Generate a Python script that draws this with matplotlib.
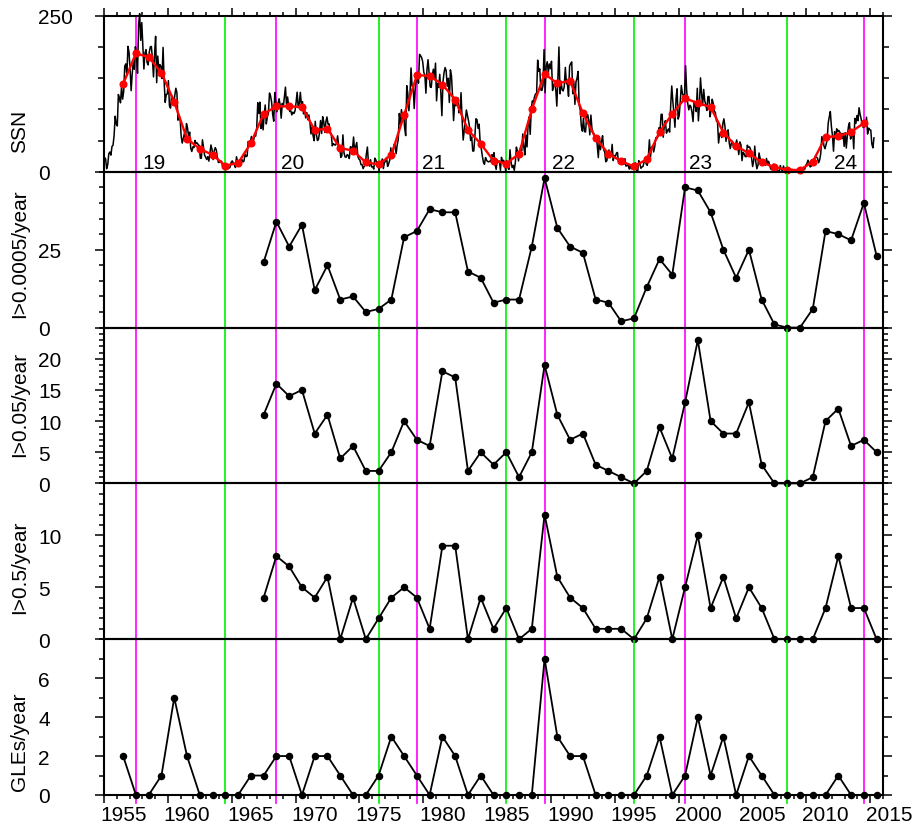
import numpy as np
import matplotlib
matplotlib.use('Agg')
import matplotlib.pyplot as plt
from matplotlib.ticker import FixedLocator, MultipleLocator
from matplotlib.transforms import ScaledTranslation

plt.rcParams['font.family'] = ['Liberation Sans', 'DejaVu Sans']

# ---------------- data ----------------
# monthly sunspot number, Jan 1955 .. Apr 2015
ssn_monthly = [
    23.1, 20.8, 4.9, 11.3, 28.9, 31.7, 26.7, 40.7, 42.7, 58.5, 89.2, 76.9,          # 1955
    73.6, 124.0, 118.4, 110.7, 136.6, 116.6, 129.1, 169.6, 173.2, 155.3, 201.3, 192.1,  # 1956
    165.0, 130.2, 157.4, 175.2, 164.6, 200.7, 187.2, 158.0, 235.8, 253.8, 210.9, 239.4,  # 1957
    202.5, 164.9, 190.7, 196.0, 175.3, 171.5, 191.4, 200.2, 201.2, 181.5, 152.3, 187.6,  # 1958
    217.4, 143.1, 185.7, 163.3, 172.0, 168.7, 149.6, 199.6, 145.2, 111.4, 124.0, 125.0,  # 1959
    146.3, 106.0, 102.2, 122.0, 119.6, 110.2, 121.7, 134.1, 127.2, 82.8, 89.6, 85.6,     # 1960
    57.9, 46.1, 53.0, 61.4, 51.0, 77.4, 70.2, 55.9, 63.6, 37.7, 32.6, 40.0,              # 1961
    38.7, 50.3, 45.6, 46.4, 43.7, 42.0, 21.8, 21.8, 51.3, 39.5, 26.9, 23.2,              # 1962
    19.8, 24.4, 17.1, 29.3, 43.0, 35.9, 19.6, 33.2, 38.8, 35.3, 23.4, 14.9,              # 1963
    15.3, 17.7, 16.5, 8.6, 9.5, 9.1, 3.1, 9.3, 4.7, 6.1, 7.4, 15.1,                      # 1964
    17.5, 14.2, 11.7, 6.8, 24.1, 15.9, 11.9, 8.9, 16.8, 20.1, 15.8, 17.0,                # 1965
    28.2, 24.4, 25.3, 48.7, 45.3, 47.7, 56.7, 51.2, 50.2, 57.2, 57.2, 70.4,              # 1966
    110.9, 93.6, 111.8, 69.5, 86.5, 67.3, 91.5, 107.2, 76.8, 88.2, 94.3, 126.4,          # 1967
    121.8, 111.9, 92.2, 81.2, 127.2, 110.3, 96.1, 109.3, 117.2, 107.7, 86.0, 109.8,      # 1968
    104.4, 120.5, 135.8, 106.8, 120.0, 106.0, 96.8, 98.0, 91.3, 95.7, 93.5, 97.9,        # 1969
    111.5, 127.8, 102.9, 109.5, 127.5, 106.8, 112.5, 93.0, 99.5, 86.6, 95.2, 83.5,       # 1970
    91.3, 79.0, 60.7, 71.8, 57.5, 49.8, 81.0, 61.4, 50.2, 51.7, 63.2, 82.2,              # 1971
    61.5, 88.4, 80.1, 63.2, 80.5, 88.0, 76.5, 76.8, 64.0, 61.3, 41.6, 45.3,              # 1972
    43.4, 42.9, 46.0, 57.7, 42.4, 39.5, 23.1, 25.6, 59.3, 30.7, 23.9, 23.3,              # 1973
    27.6, 26.0, 21.3, 40.3, 39.5, 36.0, 55.8, 33.6, 40.2, 47.1, 25.0, 20.5,              # 1974
    18.9, 11.5, 11.5, 5.1, 9.0, 11.4, 28.2, 39.7, 13.9, 9.1, 19.4, 7.8,                  # 1975
    8.1, 4.3, 21.9, 18.8, 12.4, 12.2, 1.9, 16.4, 13.5, 20.6, 5.2, 15.3,                  # 1976
    16.4, 23.1, 8.7, 12.9, 18.6, 38.5, 21.4, 30.1, 44.0, 43.8, 29.1, 43.2,               # 1977
    51.9, 93.6, 76.5, 99.7, 82.7, 95.1, 70.4, 58.1, 138.2, 125.1, 97.9, 122.7,           # 1978
    166.6, 137.5, 138.0, 101.5, 134.4, 149.5, 159.4, 142.2, 188.4, 186.2, 183.3, 176.3,  # 1979
    159.6, 155.0, 126.2, 164.1, 179.9, 157.3, 136.3, 135.4, 155.0, 164.7, 147.9, 174.4,  # 1980
    114.0, 141.3, 135.5, 156.4, 127.5, 90.0, 143.8, 158.7, 167.3, 162.4, 137.5, 150.1,   # 1981
    111.2, 163.6, 153.8, 122.0, 82.2, 110.4, 106.1, 107.6, 118.8, 94.7, 98.1, 127.0,     # 1982
    84.3, 51.0, 66.5, 80.7, 99.2, 91.1, 82.2, 71.8, 50.3, 55.8, 33.3, 33.4,              # 1983
    57.0, 85.1, 83.5, 69.7, 76.4, 46.1, 37.4, 25.5, 15.7, 12.0, 22.8, 18.7,              # 1984
    16.5, 15.9, 17.2, 16.2, 27.5, 24.2, 30.7, 11.1, 3.9, 18.6, 16.2, 17.3,               # 1985
    2.5, 23.2, 15.1, 18.5, 13.7, 1.1, 18.1, 7.4, 3.8, 35.4, 15.2, 6.8,                   # 1986
    10.4, 2.4, 14.7, 39.6, 33.0, 17.4, 33.0, 38.7, 33.9, 60.6, 39.9, 27.1,               # 1987
    59.0, 40.0, 76.2, 88.0, 60.1, 101.8, 113.8, 111.6, 120.1, 125.1, 125.1, 179.2,       # 1988
    161.3, 165.1, 131.4, 130.6, 138.5, 196.2, 126.9, 168.9, 176.7, 159.4, 173.0, 165.5,  # 1989
    177.3, 130.5, 140.3, 140.3, 132.2, 105.4, 149.4, 200.3, 125.2, 145.5, 131.4, 129.7,  # 1990
    136.9, 167.5, 141.9, 140.0, 121.3, 169.7, 173.7, 176.3, 125.3, 144.1, 108.2, 144.4,  # 1991
    150.0, 161.1, 106.7, 99.8, 73.8, 65.2, 85.7, 64.5, 63.9, 88.7, 91.8, 82.6,           # 1992
    59.3, 91.0, 69.8, 62.2, 61.3, 49.8, 57.9, 42.3, 22.8, 56.1, 35.4, 48.9,              # 1993
    57.8, 35.5, 31.7, 16.1, 17.8, 28.0, 35.1, 22.5, 25.7, 44.0, 18.0, 26.2,              # 1994
    24.2, 29.9, 31.1, 14.0, 14.5, 15.6, 14.5, 14.3, 11.8, 21.1, 9.0, 10.0,               # 1995
    11.5, 4.4, 9.2, 4.8, 5.5, 11.8, 8.2, 14.4, 1.6, 0.9, 17.9, 13.3,                     # 1996
    5.7, 7.6, 8.7, 15.5, 18.5, 12.7, 10.4, 24.4, 51.3, 23.8, 39.0, 41.2,                 # 1997
    31.9, 40.3, 54.8, 53.4, 56.3, 70.7, 66.6, 92.2, 92.2, 55.5, 74.0, 81.9,              # 1998
    62.0, 66.3, 68.8, 63.7, 106.4, 137.7, 113.5, 93.7, 71.5, 116.7, 133.2, 84.6,         # 1999
    90.1, 112.9, 138.5, 125.5, 121.6, 124.9, 170.1, 130.5, 109.7, 99.4, 106.8, 104.4,    # 2000
    95.6, 80.6, 113.5, 107.7, 96.6, 134.0, 81.8, 106.4, 150.7, 125.5, 106.5, 132.2,      # 2001
    114.1, 107.4, 98.4, 120.7, 120.8, 88.3, 99.6, 116.4, 109.6, 97.5, 95.0, 81.6,        # 2002
    79.5, 46.2, 61.5, 60.0, 55.2, 77.4, 85.0, 72.7, 48.8, 65.5, 67.3, 46.5,              # 2003
    37.3, 45.8, 49.1, 39.3, 41.5, 43.2, 51.1, 40.9, 27.7, 48.0, 43.5, 17.9,              # 2004
    31.3, 29.2, 24.5, 24.2, 42.7, 39.3, 40.0, 36.4, 22.1, 8.5, 18.0, 41.2,               # 2005
    15.3, 4.9, 10.6, 30.2, 22.3, 13.9, 12.2, 12.9, 14.4, 10.5, 21.4, 13.6,               # 2006
    16.8, 10.7, 4.5, 3.4, 11.7, 12.1, 9.7, 6.0, 2.4, 0.9, 1.7, 10.1,                     # 2007
    3.3, 2.1, 9.3, 2.9, 2.9, 3.1, 0.5, 0.5, 1.1, 2.9, 4.1, 0.8,                          # 2008
    1.5, 1.4, 0.7, 1.2, 2.9, 2.6, 3.5, 0.0, 4.4, 4.6, 4.2, 10.6,                         # 2009
    13.1, 18.6, 15.4, 7.9, 8.8, 13.5, 16.1, 19.6, 25.2, 23.5, 21.6, 14.5,                # 2010
    19.0, 29.4, 56.2, 54.4, 41.6, 37.0, 43.9, 50.6, 78.0, 88.0, 96.7, 73.0,              # 2011
    58.3, 33.1, 64.2, 55.2, 69.0, 64.5, 66.5, 63.0, 61.4, 53.3, 61.8, 40.8,              # 2012
    62.9, 38.1, 57.9, 72.4, 78.7, 52.5, 57.0, 66.0, 37.0, 85.6, 77.6, 90.3,              # 2013
    82.0, 102.8, 92.2, 84.7, 75.2, 71.0, 72.4, 74.6, 87.6, 60.6, 70.1, 67.3,             # 2014
    67.0, 44.8, 38.4, 54.4,                                                              # 2015
]

# yearly mean sunspot number, 1956 .. 2014
ssn_years = list(range(1956, 2015))
ssn_yearly = [141, 190, 184, 159, 112, 53, 37, 27, 10, 14,
              46, 93, 105, 105, 104, 67, 69, 38, 34, 15,
              12, 27, 91, 155, 154, 140, 116, 67, 45, 18,
              13, 29, 100, 157, 142, 146, 94, 54, 29, 17,
              8.6, 20, 64, 93, 118, 110, 104, 63, 41, 30,
              15, 7.5, 3, 3, 16, 56, 57, 64, 78]

# yearly event counts 1967 .. 2015
event_years = list(range(1967, 2016))
i_0005 = [21, 34, 26, 33, 12, 20, 9, 10, 5, 6, 9, 29, 31, 38, 37, 37, 18, 16, 8, 9,
          9, 26, 48, 32, 26, 24, 9, 8, 2, 3, 13, 22, 17, 45, 44, 37, 25, 16, 25, 9,
          1, 0, 0, 6, 31, 30, 28, 40, 23]
i_005 = [11, 16, 14, 15, 8, 11, 4, 6, 2, 2, 5, 10, 7, 6, 18, 17, 2, 5, 3, 5,
         1, 5, 19, 11, 7, 8, 3, 2, 1, 0, 2, 9, 4, 13, 23, 10, 8, 8, 13, 3,
         0, 0, 0, 1, 10, 12, 6, 7, 5]
i_05 = [4, 8, 7, 5, 4, 6, 0, 4, 0, 2, 4, 5, 4, 1, 9, 9, 0, 4, 1, 3,
        0, 1, 12, 6, 4, 3, 1, 1, 1, 0, 2, 6, 0, 5, 10, 3, 6, 2, 5, 3,
        0, 0, 0, 0, 3, 8, 3, 3, 0]

# GLEs per year 1956 .. 2015
gle_years = list(range(1956, 2016))
gles = [2, 0, 0, 1, 5, 2, 0, 0, 0, 0, 1, 1, 2, 2, 0, 2, 2, 1, 0, 0,
        1, 3, 2, 1, 0, 3, 2, 0, 1, 0, 0, 0, 0, 7, 3, 2, 2, 0, 0, 0,
        0, 1, 3, 0, 1, 4, 1, 3, 0, 2, 1, 0, 0, 0, 0, 0, 1, 0, 0, 0]

# solar minima (green) and maxima (magenta) years
min_years = [1964, 1976, 1986, 1996, 2008]
max_years = [1957, 1968, 1979, 1989, 2000, 2014]

cycle_labels = ['19', '20', '21', '22', '23', '24']
cycle_label_x = [1958.95, 1969.8, 1980.8, 1991.0, 2001.75, 2013.06]

panel_labels = ['SSN', 'I>0.0005/year', 'I>0.05/year', 'I>0.5/year', 'GLEs/year']
panel_label_y_px = [131, 254, 404, 567, 742]
panel_ylims = [250, 50, 25, 15, 8]
panel_major = [[0, 250], [0, 25], [0, 5, 10, 15, 20], [0, 5, 10], [0, 2, 4, 6]]
panel_minor = [50, 5, 1, 1, 1]

# ---------------- figure ----------------
W, H = 918, 828
fig = plt.figure(figsize=(W / 100, H / 100), dpi=100)

left_px, right_px = 104, 883
top_px, bot_px = 17, 796
ph = (bot_px - top_px) / 5.0

axes = []
for i in range(5):
    y0 = top_px + ph * (i + 1)
    ax = fig.add_axes([left_px / W, 1 - y0 / H, (right_px - left_px) / W, ph / H])
    axes.append(ax)

fs = 15
for i, ax in enumerate(axes):
    ax.set_xlim(1955, 2016)
    ax.set_ylim(0, panel_ylims[i])
    ax.yaxis.set_major_locator(FixedLocator(panel_major[i]))
    ax.yaxis.set_minor_locator(MultipleLocator(panel_minor[i]))
    ax.tick_params(axis='y', which='both', direction='out', left=True, right=True,
                   labelleft=True, labelright=False, width=1.1)
    ax.tick_params(axis='y', which='major', length=6.5, pad=41, labelsize=fs)
    ax.tick_params(axis='y', which='minor', length=3.6 if i else 4.3)
    for lab in ax.get_yticklabels():
        lab.set_horizontalalignment('left')
    for s in ax.spines.values():
        s.set_linewidth(1.5)
    ax.xaxis.set_major_locator(MultipleLocator(5))
    ax.xaxis.set_minor_locator(MultipleLocator(1))
    ax.tick_params(axis='x', which='both', direction='out', bottom=False, top=False,
                   labelbottom=False, labeltop=False, width=1.1)
    ax.set_facecolor('none')
    # vertical cycle lines
    ext = 8.0 / ph if i == 4 else 0.0
    for y in min_years:
        ax.axvline(y + 0.5, ymin=-ext, ymax=1, color='#00f000', lw=1.2, zorder=1, clip_on=False)
    for y in max_years:
        ax.axvline(y + 0.5, ymin=-ext, ymax=1, color='#ff00ff', lw=1.2, zorder=1, clip_on=False)
    fig.text(20 / W, 1 - panel_label_y_px[i] / H, panel_labels[i], rotation=90,
             ha='center', va='center', fontsize=fs)

# top x ticks on first panel, bottom x ticks with labels on last panel
axes[0].tick_params(axis='x', which='both', top=True)
axes[0].tick_params(axis='x', which='major', length=5.8)
axes[0].tick_params(axis='x', which='minor', length=2.9)
axb = axes[4]
axb.tick_params(axis='x', which='both', bottom=True, labelbottom=True)
axb.tick_params(axis='x', which='major', length=5.8, pad=1.5, labelsize=fs)
axb.tick_params(axis='x', which='minor', length=2.9)
axb.set_xticks(np.arange(1955, 2016, 5))
axb.set_xticklabels([str(v) for v in range(1955, 2016, 5)])
off = ScaledTranslation(-0.04, 0, fig.dpi_scale_trans)
for lab in axb.get_xticklabels():
    lab.set_horizontalalignment('left')
    lab.set_transform(lab.get_transform() + off)

# panel 1: SSN
ax = axes[0]
t_month = 1955 + (np.arange(len(ssn_monthly)) + 0.5) / 12.0
ax.plot(t_month, ssn_monthly, color='black', lw=1.1, zorder=2, clip_on=False)
ax.plot(np.array(ssn_years) + 0.5, ssn_yearly, color='red', lw=1.7, marker='o',
        markersize=4.8, zorder=3, clip_on=False)
for lab, xx in zip(cycle_labels, cycle_label_x):
    ax.text(xx, 6.4, lab, ha='center', va='baseline', fontsize=fs, zorder=4)

def plot_counts(ax, yrs, vals):
    ax.plot(np.array(yrs) + 0.5, vals, color='black', lw=1.3, marker='o',
            markersize=4.4, zorder=3, clip_on=False)

plot_counts(axes[1], event_years, i_0005)
plot_counts(axes[2], event_years, i_005)
plot_counts(axes[3], event_years, i_05)
plot_counts(axes[4], gle_years, gles)

fig.savefig('out.png', dpi=100)
